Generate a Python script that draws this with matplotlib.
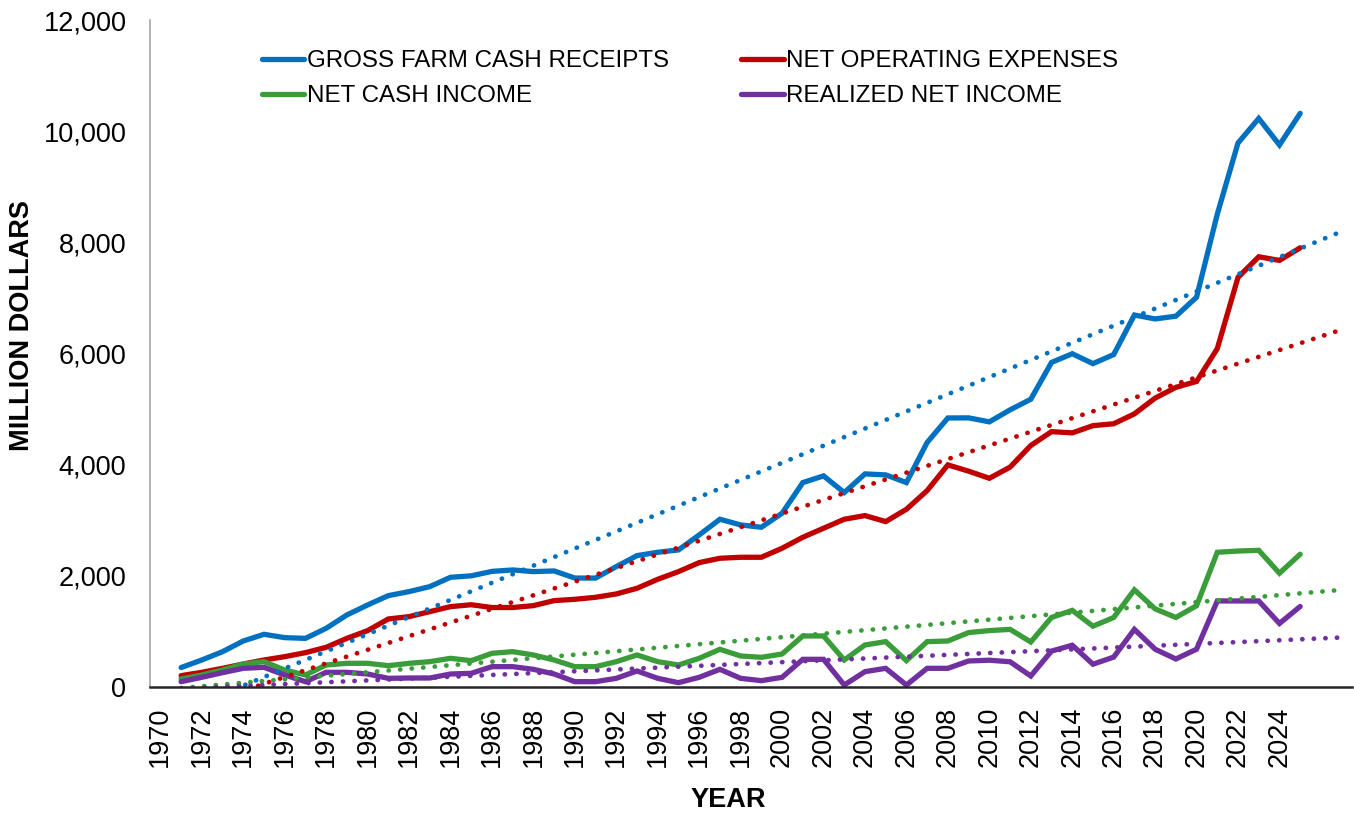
import numpy as np
import matplotlib
matplotlib.use('Agg')
import matplotlib.pyplot as plt
from matplotlib.ticker import FuncFormatter

plt.rcParams['font.family'] = ['Liberation Sans', 'DejaVu Sans']

# Data (million dollars)
years = np.arange(1971, 2026)

gross_receipts = [350, 486, 635, 828, 948, 888, 875, 1056, 1296, 1476,
                  1644, 1716, 1806, 1974, 2000, 2080, 2106, 2076, 2088, 1960,
                  1960, 2166, 2364, 2424, 2466, 2736, 3018, 2916, 2874, 3126,
                  3678, 3798, 3498, 3834, 3816, 3678, 4400, 4840, 4842, 4770,
                  4986, 5177, 5839, 5996, 5818, 5981, 6692, 6622, 6671, 7013,
                  8507, 9788, 10229, 9752, 10321]
operating_expenses = [204, 264, 336, 414, 486, 546, 618, 714, 876, 1014,
                      1224, 1266, 1356, 1446, 1480, 1430, 1430, 1464, 1554, 1578,
                      1614, 1674, 1776, 1938, 2076, 2238, 2316, 2334, 2334, 2496,
                      2694, 2856, 3018, 3084, 2976, 3198, 3534, 3996, 3883, 3755,
                      3955, 4345, 4594, 4572, 4702, 4736, 4914, 5198, 5391, 5497,
                      6088, 7370, 7740, 7675, 7902]
net_cash_income = [144, 216, 306, 414, 456, 306, 216, 396, 426, 426,
                   384, 426, 456, 516, 474, 606, 636, 576, 486, 366,
                   366, 456, 576, 456, 396, 516, 678, 558, 534, 594,
                   918, 918, 486, 756, 816, 474, 816, 828, 979, 1015,
                   1037, 810, 1251, 1379, 1094, 1251, 1748, 1406, 1251, 1463,
                   2424, 2446, 2459, 2047, 2389]
realized_net_income = [96, 174, 258, 336, 354, 216, 96, 264, 264, 234,
                       156, 162, 162, 234, 246, 366, 366, 318, 234, 96,
                       96, 156, 288, 156, 78, 174, 318, 156, 114, 174,
                       498, 498, 36, 276, 336, 36, 336, 336, 468, 482,
                       454, 198, 646, 752, 410, 538, 1037, 680, 504, 680,
                       1548, 1548, 1548, 1143, 1449]

labels = ['GROSS FARM CASH RECEIPTS', 'NET OPERATING EXPENSES',
          'NET CASH INCOME', 'REALIZED NET INCOME']
colors = ['#0070C0', '#C00000', '#3A9D3A', '#7030A0']
series = [gross_receipts, operating_expenses, net_cash_income, realized_net_income]

fig = plt.figure(figsize=(13.54, 8.15), dpi=100)
ax = fig.add_axes([150 / 1354, 1 - 687 / 815, 1202 / 1354, 667 / 815])

handles = []
for vals, col, lab in zip(series, colors, labels):
    h, = ax.plot(years, vals, color=col, lw=3.8, solid_joinstyle='miter',
                 solid_capstyle='round', label=lab)
    handles.append(h)

# linear trendlines, forecast forward 2 periods
trend_x = np.arange(1971, 2028)
for vals, col in zip(series, colors):
    k, b = np.polyfit(years, vals, 1)
    ax.plot(trend_x, k * trend_x + b, color=col, lw=3.4,
            linestyle=(0, (0.05, 2.4)), dash_capstyle='round')

ax.set_xlim(1969.5, 2027.5)
ax.set_ylim(0, 12000)
ax.set_yticks(np.arange(0, 12001, 2000))
ax.yaxis.set_major_formatter(FuncFormatter(lambda v, p: f'{int(v):,}'))
ax.set_xticks(np.arange(1970, 2025, 2))
ax.set_xticklabels([str(y) for y in range(1970, 2025, 2)], rotation=90)
ax.tick_params(axis='y', length=0, pad=17, labelsize=19.5)
ax.tick_params(axis='x', length=0, pad=14, labelsize=19.5)

for s in ['top', 'right']:
    ax.spines[s].set_visible(False)
ax.spines['left'].set_color('#a6a6a6')
ax.spines['left'].set_linewidth(1.2)
ax.spines['bottom'].set_color('#262626')
ax.spines['bottom'].set_linewidth(1.8)

fig.text(22 / 1354, 1 - 326 / 815, 'MILLION DOLLARS', rotation=90,
         ha='center', va='center', fontsize=19.5, fontweight='bold')
fig.text(728 / 1354, 1 - 800 / 815, 'YEAR', ha='center', va='center',
         fontsize=19.5, fontweight='bold')

order = [0, 2, 1, 3]
fig.legend([handles[i] for i in order], [labels[i] for i in order],
           loc='upper left', bbox_to_anchor=(262 / 1354, 1 - 50 / 815),
           ncol=2, frameon=False, fontsize=17.4, handlelength=1.75,
           handletextpad=0.1, columnspacing=3.0, labelspacing=0.54,
           borderpad=0, borderaxespad=0)

fig.savefig('out.png', dpi=100)
